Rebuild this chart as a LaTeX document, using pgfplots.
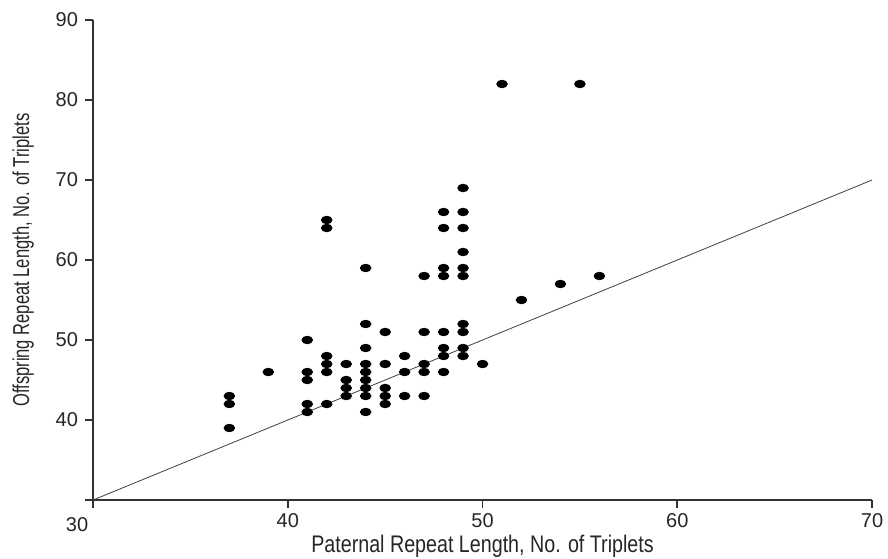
\documentclass[border=0pt]{standalone}
\usepackage{fontspec}
\setmainfont{Liberation Sans}
\usepackage{graphicx}
\usepackage{pgfplots}
\pgfplotsset{compat=1.18}

% paternal vs offspring repeat length
\pgfplotstableread{
x y
37 43
37 42
37 39
39 46
41 50
41 46
41 45
41 42
41 41
42 65
42 64
42 48
42 47
42 46
42 42
43 47
43 45
43 44
43 43
44 59
44 52
44 49
44 47
44 46
44 45
44 44
44 43
44 41
45 51
45 47
45 44
45 43
45 42
46 48
46 46
46 43
47 58
47 51
47 47
47 46
47 43
48 66
48 64
48 59
48 58
48 51
48 49
48 48
48 46
49 69
49 66
49 64
49 61
49 59
49 58
49 52
49 51
49 49
49 48
50 47
51 82
55 82
52 55
54 57
56 58
}\pairs

\begin{document}
\begin{tikzpicture}
\begin{axis}[
  scale only axis, width=389.5pt, height=240pt,
  xmin=30, xmax=70, ymin=30, ymax=90,
  clip mode=individual,
  axis lines=left, axis line style={-, line width=0.8pt, black!80},
  xtick={30,40,...,70}, ytick={30,40,...,90},
  xticklabels={,40,50,60,70}, yticklabels={,40,50,60,70,80,90},
  tick align=outside, major tick length=4pt,
  tick style={line width=0.8pt, black!80},
  tick label style={font=\fontsize{10}{12}\selectfont, text=black!85},
  xticklabel style={yshift=1pt},
  xlabel={\scalebox{0.82}[1]{Paternal Repeat Length, No. of Triplets}},
  ylabel={\scalebox{0.72}[1]{Offspring Repeat Length, No. of Triplets}},
  xlabel style={font=\fontsize{12}{14}\selectfont, text=black!85, yshift=3pt},
  ylabel style={font=\fontsize{11.5}{13}\selectfont, text=black!85, yshift=4pt},
]
\addplot[black!75, line width=0.4pt] coordinates {(30,30)(70,70)};
\addplot[only marks, mark=*, mark size=1.9pt, mark options={xscale=1.4, fill=black, draw=black}] table[x=x, y=y] {\pairs};
\node[anchor=north, font=\fontsize{10}{12}\selectfont, text=black!85, xshift=-8pt, yshift=-5pt] at (axis cs:30,30) {30};
\coordinate (bl) at (rel axis cs:-0.1194,-0.1208);
\coordinate (tr) at (rel axis cs:1.0205,1.0417);
\end{axis}
\pgfresetboundingbox
\path[use as bounding box] (bl) rectangle (tr);
\end{tikzpicture}
\end{document}
